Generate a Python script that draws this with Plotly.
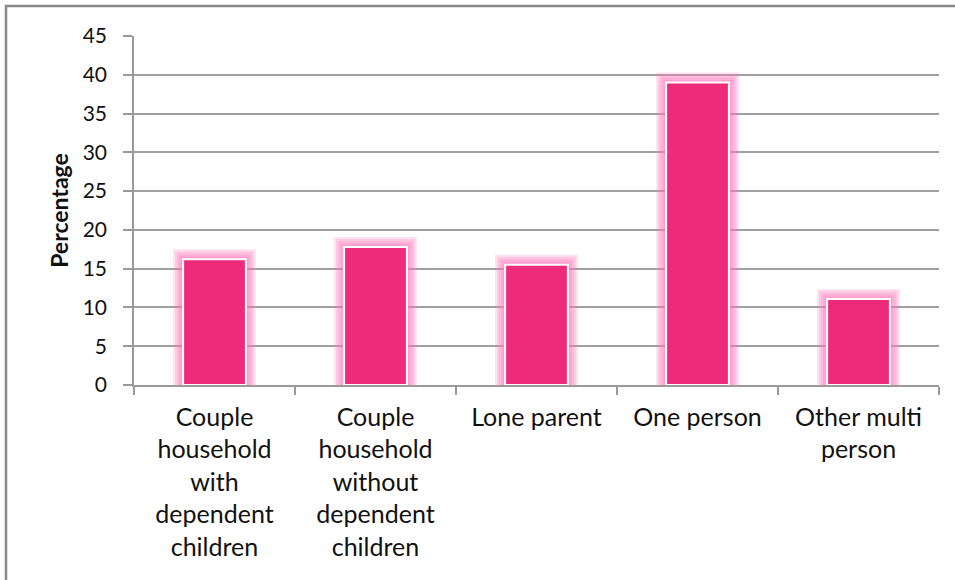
import plotly.graph_objects as go

categories = [
    "Couple<br>household<br>with<br>dependent<br>children",
    "Couple<br>household<br>without<br>dependent<br>children",
    "Lone parent",
    "One person",
    "Other multi<br>person",
]
values = [16.2, 17.8, 15.5, 39.0, 11.1]
y_ticks = [0, 5, 10, 15, 20, 25, 30, 35, 40, 45]

PX_PER_UNIT = 349 / 45.0
CAT_PX = 805 / 5.0
BAR_W = 0.39

fig = go.Figure()

# glow layers
for e in [10, 8, 6, 4, 2]:
    fig.add_trace(go.Bar(
        x=categories,
        y=[v + e / PX_PER_UNIT for v in values],
        width=BAR_W + 2 * e / CAT_PX,
        marker=dict(color="rgba(255,120,185,0.22)", line=dict(width=0)),
        hoverinfo="skip",
        showlegend=False,
    ))

fig.add_trace(go.Bar(
    x=categories,
    y=values,
    width=BAR_W,
    marker=dict(color="#EE2B7A", line=dict(color="white", width=2)),
    showlegend=False,
))

fig.update_layout(
    width=955, height=580,
    margin=dict(l=134, r=16, t=36, b=195),
    paper_bgcolor="white",
    plot_bgcolor="white",
    barmode="overlay",
    font=dict(family="Lato, 'Open Sans', sans-serif", color="#111111"),
    xaxis=dict(
        showline=True, linecolor="#9a9a9a", linewidth=1.5,
        ticks="outside", tickson="boundaries", ticklen=8, tickcolor="#9a9a9a", tickwidth=1.5,
        tickfont=dict(size=25),
        ticklabelstandoff=9,
        showgrid=False,
    ),
    yaxis=dict(
        range=[0, 45],
        tickvals=y_ticks,
        showline=True, linecolor="#9a9a9a", linewidth=1.5,
        ticks="outside", ticklen=9, tickcolor="#9a9a9a", tickwidth=1.5,
        showgrid=True, gridcolor="#a0a0a0", gridwidth=1.5,
        tickfont=dict(size=21),
        ticklabelstandoff=12,
        title=dict(text="<b>Percentage</b>", font=dict(size=23), standoff=8),
        zeroline=False,
    ),
    shapes=[dict(
        type="rect", xref="paper", yref="paper",
        x0=(6 - 134) / 805, x1=1.2,
        y0=-1.0, y1=(385 - 6) / 349,
        line=dict(color="#8a8a8a", width=2.5),
        fillcolor="rgba(0,0,0,0)",
        layer="below",
    )],
)

fig.write_html("out.html")
